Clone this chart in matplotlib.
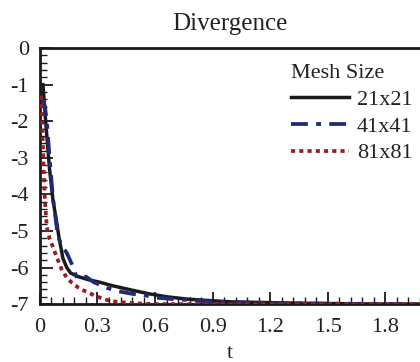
import matplotlib.pyplot as plt
from matplotlib.ticker import MultipleLocator

plt.rcParams['font.family'] = ['Liberation Serif', 'DejaVu Serif']

# divergence history (log10) for each mesh
t_21 = [0.016, 0.03, 0.05, 0.068, 0.087, 0.10, 0.12, 0.14, 0.16, 0.20, 0.25,
        0.31, 0.38, 0.48, 0.57, 0.66, 0.76, 0.87, 1.0, 1.2, 1.4, 1.6, 1.8, 2.0]
d_21 = [-1.0, -2.0, -3.3, -4.15, -4.75, -5.2, -5.75, -6.0, -6.15, -6.25, -6.33,
        -6.4, -6.5, -6.62, -6.72, -6.8, -6.86, -6.9, -6.94, -6.96, -6.98, -6.99, -7.0, -7.0]

t_41 = [0.015, 0.026, 0.036, 0.052, 0.068, 0.094, 0.12, 0.14, 0.17, 0.19, 0.22,
        0.24, 0.28, 0.35, 0.42, 0.48, 0.54, 0.60, 0.66, 0.75, 0.85, 1.0, 1.2, 1.5, 2.0]
d_41 = [-1.4, -1.6, -2.0, -3.1, -4.1, -5.16, -5.45, -5.6, -5.95, -6.25, -6.3,
        -6.25, -6.4, -6.56, -6.66, -6.72, -6.75, -6.82, -6.85, -6.88, -6.92, -6.95, -6.97, -6.99, -7.0]

t_81 = [0.005, 0.01, 0.015, 0.02, 0.026, 0.036, 0.05, 0.068, 0.09, 0.115, 0.14,
        0.167, 0.20, 0.24, 0.30, 0.35, 0.40, 0.50, 0.60, 2.0]
d_81 = [-1.3, -1.8, -2.6, -3.4, -4.15, -4.9, -5.2, -5.44, -5.75, -6.07, -6.28,
        -6.42, -6.55, -6.66, -6.8, -6.89, -6.94, -6.98, -7.0, -7.0]

xtick_vals = [0, 0.3, 0.6, 0.9, 1.2, 1.5, 1.8]
xtick_labels = ['0', '0.3', '0.6', '0.9', '1.2', '1.5', '1.8']
ytick_vals = [0, -1, -2, -3, -4, -5, -6, -7]
ytick_labels = ['0', '-1', '-2', '-3', '-4', '-5', '-6', '-7']

fig = plt.figure(figsize=(4.2, 3.62), dpi=100)
ax = fig.add_axes([0.095, 0.16, 0.905, 0.707])

ax.plot(t_21, d_21, color='#1a1a1a', lw=2.5, label='21x21', zorder=3)
ax.plot(t_41, d_41, color='#1f2a78', lw=2.7, linestyle=(0, (4.5, 2.2, 1.3, 2.2)),
        label='41x41', zorder=4)
ax.plot(t_81, d_81, color='#9a1b20', lw=2.7, linestyle=(0, (1.1, 1.1)),
        label='81x81', zorder=5)

ax.set_xlim(0, 1.98)
ax.set_ylim(-7, 0)
ax.xaxis.set_minor_locator(MultipleLocator(0.06))
ax.yaxis.set_minor_locator(MultipleLocator(0.2))
ax.set_xticks(xtick_vals)
ax.set_xticklabels(xtick_labels)
ax.set_yticks(ytick_vals)
ax.set_yticklabels(ytick_labels)

ax.tick_params(which='both', direction='in', top=False, right=False,
               labelsize=16, labelcolor='#222222', color='#1a1a1a')
ax.tick_params(axis='x', which='major', pad=10)
ax.tick_params(axis='y', which='major', pad=8)
ax.tick_params(which='major', length=9, width=1.3)
ax.tick_params(which='minor', length=5, width=1.0)
for side in ['left', 'bottom', 'top']:
    ax.spines[side].set_linewidth(2)
    ax.spines[side].set_color('#1a1a1a')
ax.spines['right'].set_visible(False)

ax.set_title('Divergence', fontsize=18, color='#222222', pad=13)
ax.set_xlabel('t', fontsize=16, color='#222222', labelpad=5)

leg = ax.legend(title='Mesh Size', loc='upper right', frameon=False,
                fontsize=16, title_fontsize=16, handlelength=2.6,
                handletextpad=0.35, labelspacing=0.28, alignment='left',
                bbox_to_anchor=(1.015, 0.99), borderaxespad=0.2)
for txt in leg.get_texts():
    txt.set_color('#222222')
leg.get_title().set_color('#222222')

fig.savefig('out.png', dpi=100)
